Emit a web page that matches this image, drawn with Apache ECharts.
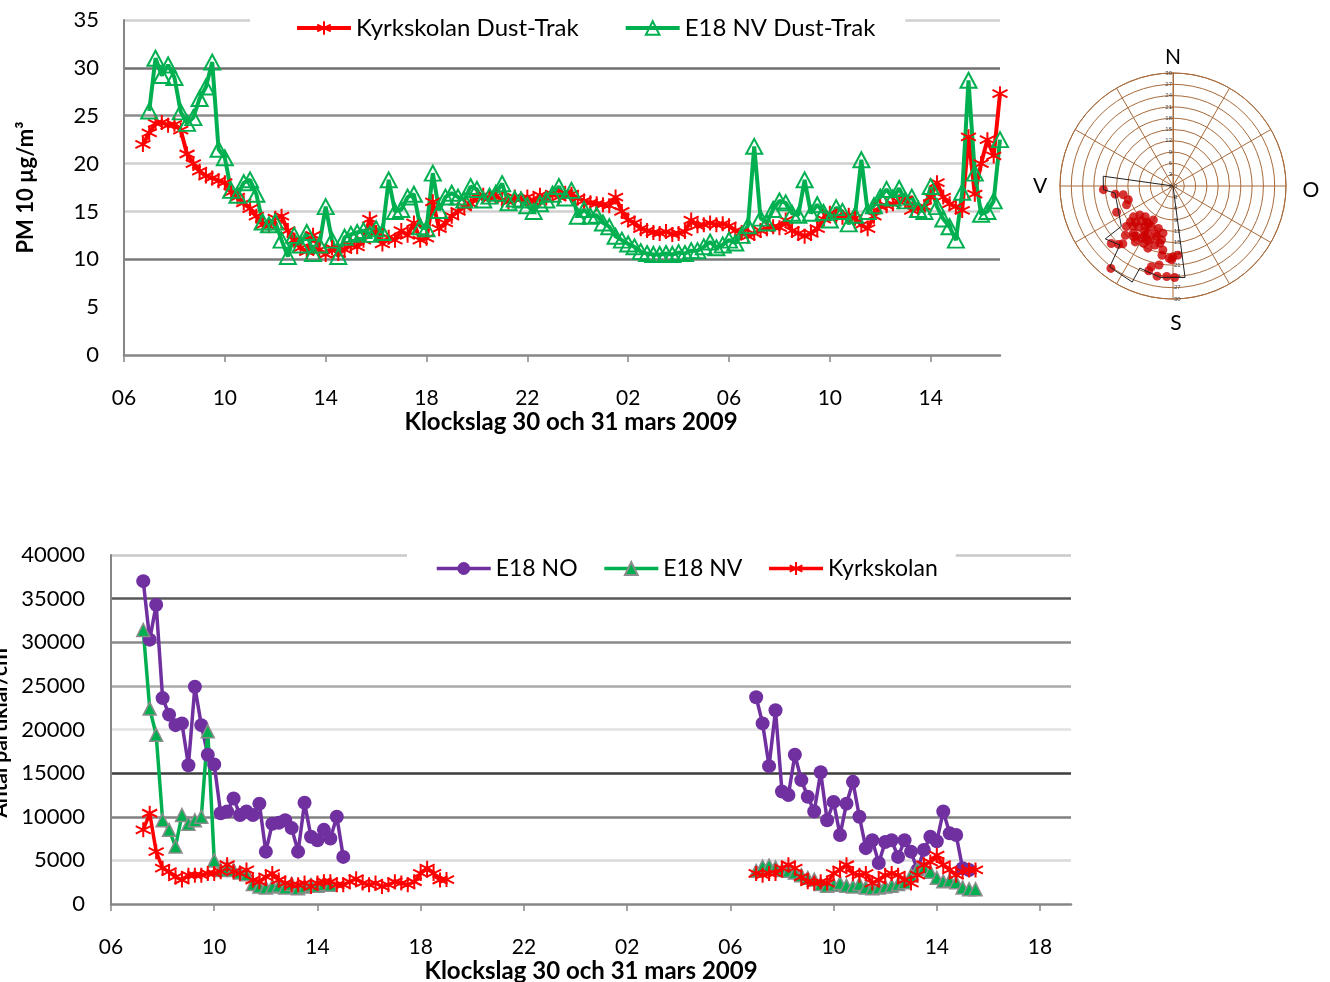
<!DOCTYPE html>
<html>
<head>
<meta charset="utf-8">
<script src="https://cdn.jsdelivr.net/npm/echarts@6/dist/echarts.min.js"></script>
<style>
  html, body { margin: 0; padding: 0; background: #fff; }
  #chart { width: 1330px; height: 982px; }
</style>
</head>
<body>
<div id="chart"></div>
<script>
// ---- Time base: hours after 06:00 on 30 March, 15-minute readings ----
const STEP = 0.25;
const hourTicks = ['06', '10', '14', '18', '22', '02', '06', '10', '14', '18'];

// ---- PM10 (µg/m³), Dust-Trak, first reading 06:45 ----
const pmStart = 0.75;
const kyrkskolanPM = [
  22.0,
  23.2, 24.2, 24.3, 24.0,  24.1, 23.5, 21.0, 20.0,  19.2, 18.7, 18.5, 18.2,
  18.0, 17.0, 16.5, 15.9,  15.3, 14.5, 13.6, 13.5,  14.3, 14.5, 13.0, 12.0,
  11.2, 10.8, 12.5, 11.0,  10.5, 11.2, 10.6, 11.0,  11.5, 11.3, 12.0, 14.2,
  12.8, 11.6, 12.3, 12.0,  13.0, 12.5, 13.8, 12.0,  12.2, 16.0, 13.2, 13.8,
  14.5, 15.0, 15.5, 15.8,  16.5, 16.7, 16.4, 16.6,  16.2, 16.0, 16.5, 16.3,
  16.5, 16.0, 16.7, 16.4,  16.8, 16.5, 16.9, 16.8,  16.4, 16.1, 15.9, 15.8,
  15.7, 15.6, 16.5, 15.0,  14.1, 13.8, 13.2, 13.0,  12.8, 12.7, 12.9, 12.6,
  12.7, 12.9, 14.1, 13.5,  13.6, 13.8, 13.6, 13.7,  13.5, 13.0, 12.8, 12.4,
  12.7, 13.0, 13.2, 13.4,  13.3, 14.1, 13.0, 12.7,  12.4, 12.7, 13.2, 14.2,
  14.8, 14.5, 14.4, 14.6,  14.3, 13.6, 13.2, 14.5,  15.5, 15.6, 15.8, 16.0,
  16.2, 15.1, 15.4, 15.5,  16.5, 18.0, 16.5, 15.8,  15.5, 15.1, 22.8, 16.8,
  20.0, 22.5, 20.8, 27.3
];
const e18nvPM = [
  null,
  25.5, 31.0, 29.2, 30.3,  29.0, 25.4, 24.2, 24.8,  26.8, 28.0, 30.6, 21.5,
  20.6, 17.2, 16.7, 18.0,  18.3, 16.8, 13.9, 13.6,  13.9, 12.0, 10.3, 12.5,
  11.5, 12.8, 10.6, 11.5,  15.5, 12.0, 10.3, 12.3,  12.6, 12.8, 13.0, 12.6,
  13.2, 12.8, 18.3, 15.0,  15.2, 16.5, 16.8, 13.4,  13.2, 19.0, 15.1, 16.5,
  16.9, 16.5, 16.2, 17.6,  17.3, 16.2, 16.6, 16.9,  17.9, 15.9, 16.3, 16.2,
  15.6, 15.0, 15.8, 16.2,  16.8, 17.6, 16.4, 17.2,  14.5, 15.2, 14.5, 14.6,
  13.8, 13.4, 12.4, 12.0,  11.6, 11.3, 10.8, 10.6,  10.5, 10.5, 10.6, 10.5,
  10.7, 10.6, 10.9, 10.9,  11.3, 11.8, 11.2, 11.5,  12.0, 11.7, 12.5, 13.5,
  21.8, 14.3, 13.8, 15.2,  16.1, 15.9, 14.8, 14.6,  18.3, 14.8, 15.7, 14.9,
  14.1, 15.4, 15.0, 13.7,  14.6, 20.4, 15.0, 15.6,  16.5, 17.3, 16.4, 17.4,
  16.1, 16.5, 15.2, 15.0,  17.6, 15.5, 14.2, 13.4,  12.0, 17.0, 28.7, 19.0,
  14.7, 15.0, 16.1, 22.5
];

// ---- Particle counts (per cm³), two measuring periods ----
const day1Start = 1.25;   // 07:15 on 30 March
const day2Start = 25.0;   // 07:00 on 31 March
const e18noDay1 = [37000, 30300, 34300, 23600, 21700, 20500, 20700, 15900, 24900, 20500, 17100, 16000,
  10400, 10600, 12100, 10200, 10600, 10200, 11500, 6000, 9200, 9300, 9600, 8700, 6000, 11600, 7700,
  7300, 8500, 7500, 10000, 5400];
const e18noDay2 = [23700, 20700, 15800, 22200, 12900, 12500, 17100, 14200, 12300, 10600, 15100, 9600,
  11700, 7900, 11500, 14000, 10000, 6400, 7300, 4700, 7100, 7300, 5400, 7300, 6000, 3900, 6200, 7700,
  7200, 10600, 8100, 7900, 4100, 3900];
const e18nvDay1 = [31400, 22400, 19400, 9600, 8500, 6600, 10200, 9200, 9600, 10000, 19800, 5000,
  3900, 4200, 3900, 3600, 3400, 2300, 2000, 1900, 2000, 2100, 1900, 2300, 1800, 2000, 2200, 2100, 2300, 2200];
const e18nvDay2 = [3800, 4300, 4400, 4200, 3900, 3800, 3600, 3300, 3000, 2800, 2300, 2100, 2200, 2400,
  2100, 2000, 2300, 1900, 1800, 1900, 2000, 2100, 2300, 2500, 3300, 4000, 4200, 3700, 3000, 2600, 2700,
  2500, 1900, 1700, 1700];
const kyrkDay1 = [8500, 10400, 6000, 4100, 3700, 3100, 2750, 3300, 3300, 3300, 3500, 3500, 3700, 4500,
  3700, 3500, 3900, 2750, 2550, 3100, 3500, 2750, 2400, 2200, 2200, 2400, 2000, 2400, 2550, 2550, 2200,
  2200, 2550, 2900, 2400, 2200, 2400, 2000, 2200, 2550, 2400, 2200, 2550, 3500, 4100, 3500, 2750, 2800];
const kyrkDay2 = [3500, 3300, 3500, 3500, 4100, 4500, 4100, 3100, 2550, 2400, 2550, 2400, 3500, 3900,
  4500, 3500, 3300, 3500, 2400, 2750, 3300, 3500, 3300, 2750, 2400, 3300, 4500, 4800, 5600, 4500, 3900,
  3300, 3700, 3900, 3900];

// ---- Wind rose: PM10 at Kyrkskolan against wind direction [level, degrees] ----
const roseDots = [
  [18.5, 267], [15.5, 262], [13.4, 260], [12.4, 253], [13.3, 248], [16.5, 245],
  [14.2, 212], [13.3, 232], [16.4, 229], [18.2, 224], [17.9, 214], [17.8, 202], [15.6, 193],
  [12.8, 192], [10.4, 210], [11.7, 229], [12.2, 208], [14.2, 220], [16.4, 220], [16.2, 211],
  [14.1, 198], [15.6, 203], [11.8, 216], [11.9, 199], [14.8, 230], [16.5, 216], [17.1, 207],
  [16.4, 197], [14.6, 192], [14.2, 208], [13.0, 215], [15.0, 225], [12.5, 222], [15.2, 210],
  [13.5, 200], [17.0, 218], [11.0, 222], [16.0, 205], [13.8, 226], [12.0, 213],
  [22.4, 227], [21.2, 223], [20.3, 221], [27.4, 217],
  [17.2, 189], [18.6, 189], [19.2, 183], [18.4, 176], [22.2, 195], [23.4, 196], [21.3, 190],
  [24.3, 190], [24.1, 184], [24.3, 179], [19.6, 181], [18.8, 180]
];
const roseOutline = [
  [0, 0], [18.7, 278], [18.5, 267], [15.5, 263], [17.4, 232], [22.8, 232], [21.1, 222],
  [27.3, 218], [27.7, 203], [23.5, 202], [24.5, 188], [24.5, 172.5], [0, 0]
];

// ---- helpers ----
function series(start, values) {
  return values.map((v, i) => [start + i * STEP, v]);
}
function twoPeriods(first, second) {
  const a = series(day1Start, first);
  const gap = [[day1Start + first.length * STEP, null]];
  return a.concat(gap, series(day2Start, second));
}
const clock = v => hourTicks[Math.round(v / 4)] || '';

const FONT = 'Lato, "DejaVu Sans", sans-serif';
const RED = '#ff0000', GREEN = '#00b050', PURPLE = '#7030a0';
const BROWN = '#a86b3c';
const STAR = 'path://M5,0L5,10M0.7,2.5L9.3,7.5M0.7,7.5L9.3,2.5';

function xAxisCfg(gridIndex, max, nameGap, namePad) {
  return {
    gridIndex, type: 'value', min: 0, max, interval: 4,
    axisLine: { show: true, lineStyle: { color: '#868686', width: 2.5 } },
    axisTick: { show: true, length: 7, lineStyle: { color: '#868686', width: 1.5 } },
    axisLabel: { formatter: clock, margin: 33, fontSize: 21, color: '#000', fontFamily: FONT,
      showMaxLabel: false },
    splitLine: { show: false },
    name: 'Klockslag 30 och 31 mars 2009', nameLocation: 'middle', nameGap,
    nameTextStyle: { fontSize: 24, fontWeight: 'bold', color: '#000', fontFamily: FONT, padding: namePad }
  };
}

const chart = echarts.init(document.getElementById('chart'), null, { renderer: 'canvas' });
chart.setOption({
  backgroundColor: '#fff',
  animation: false,
  grid: [
    { left: 124, top: 20, width: 876, height: 335, outerBoundsMode: 'none', containLabel: false },
    { left: 111, top: 555, width: 960, height: 349, outerBoundsMode: 'none', containLabel: false }
  ],
  xAxis: [
    xAxisCfg(0, 34.75, 55, [0, 0, 0, 18]),
    xAxisCfg(1, 37.2, 52, [0, 0, 0, 0])
  ],
  yAxis: [
    {
      gridIndex: 0, type: 'value', min: 0, max: 35, interval: 5,
      axisLine: { show: true, lineStyle: { color: '#868686', width: 2 } },
      axisTick: { show: false },
      axisLabel: { margin: 25, fontSize: 22, color: '#000', fontFamily: FONT },
      splitLine: { show: true, lineStyle: { width: 2.5,
        color: ['rgba(0,0,0,0)', 'rgba(0,0,0,0)', '#7a7a7a', '#cfcfcf', '#cfcfcf', '#8c8c8c', '#707070', '#cfcfcf'] } },
      name: 'PM 10 µg/m³', nameLocation: 'middle', nameGap: 87,
      nameTextStyle: { fontSize: 22, fontWeight: 'bold', color: '#000', fontFamily: FONT }
    },
    {
      gridIndex: 1, type: 'value', min: 0, max: 40000, interval: 5000,
      axisLine: { show: true, lineStyle: { color: '#868686', width: 2 } },
      axisTick: { show: false },
      axisLabel: { margin: 26, fontSize: 22, color: '#000', fontFamily: FONT, formatter: v => String(v) },
      splitLine: { show: true, lineStyle: { width: 2.5,
        color: ['rgba(0,0,0,0)', '#dadada', '#808080', '#3c3c3c', '#e2e2e2', '#aaaaaa', '#8a8a8a', '#585858', '#c8c8c8'] } },
      name: 'Antal partiklar/cm³', nameLocation: 'middle', nameGap: 99,
      nameTextStyle: { fontSize: 21, fontWeight: 'bold', color: '#000', fontFamily: FONT }
    }
  ],
  polar: [
    { center: [1173, 186], radius: 113 },
    { center: [1173, 186], radius: 113 }
  ],
  angleAxis: [
    {
      polarIndex: 0, type: 'value', min: 0, max: 360, interval: 30, startAngle: 90, clockwise: true,
      axisLine: { show: true, lineStyle: { color: BROWN, width: 1 } },
      axisTick: { show: false }, axisLabel: { show: false },
      splitLine: { show: true, lineStyle: { color: BROWN, width: 1 } }
    },
    {
      polarIndex: 1, type: 'value', min: 0, max: 360, startAngle: 270, clockwise: true,
      axisLine: { show: false }, axisTick: { show: false }, axisLabel: { show: false }, splitLine: { show: false }
    }
  ],
  radiusAxis: [
    {
      polarIndex: 0, type: 'value', min: 0, max: 30, interval: 3,
      axisLine: { show: true, lineStyle: { color: BROWN, width: 1 } },
      axisTick: { show: true, length: 3, lineStyle: { color: BROWN } },
      axisLabel: { fontSize: 6, color: '#444', margin: 1 },
      splitLine: { show: true, lineStyle: { color: BROWN, width: 1 } }
    },
    {
      polarIndex: 1, type: 'value', min: 0, max: 30, interval: 3,
      axisLine: { show: false }, axisTick: { show: false },
      axisLabel: { fontSize: 6, color: '#444', margin: 1 },
      splitLine: { show: false }
    }
  ],
  legend: [
    {
      data: ['Kyrkskolan Dust-Trak', 'E18 NV Dust-Trak'],
      left: 250, top: 10, padding: [6, 30, 6, 45], backgroundColor: '#fff',
      itemWidth: 54, itemHeight: 17, itemGap: 45,
      lineStyle: { width: 4 },
      textStyle: { fontSize: 24, color: '#000', fontFamily: FONT }
    },
    {
      data: ['E18 NO', 'E18 NV', 'Kyrkskolan'],
      left: 407, top: 551, padding: [6, 18, 6, 28], backgroundColor: '#fff',
      itemWidth: 54, itemHeight: 16, itemGap: 25,
      lineStyle: { width: 3.5 },
      textStyle: { fontSize: 23, color: '#000', fontFamily: FONT }
    }
  ],
  graphic: [
    { type: 'text', x: 1173, y: 57, style: { text: 'N', font: '21px ' + FONT, fill: '#000', textAlign: 'center', textVerticalAlign: 'middle' } },
    { type: 'text', x: 1176, y: 323, style: { text: 'S', font: '21px ' + FONT, fill: '#000', textAlign: 'center', textVerticalAlign: 'middle' } },
    { type: 'text', x: 1040, y: 186, style: { text: 'V', font: '21px ' + FONT, fill: '#000', textAlign: 'center', textVerticalAlign: 'middle' } },
    { type: 'text', x: 1311, y: 190, style: { text: 'O', font: '21px ' + FONT, fill: '#000', textAlign: 'center', textVerticalAlign: 'middle' } }
  ],
  series: [
    {
      name: 'Kyrkskolan Dust-Trak', type: 'line', xAxisIndex: 0, yAxisIndex: 0,
      data: series(pmStart, kyrkskolanPM),
      symbol: STAR, symbolSize: 15,
      lineStyle: { color: RED, width: 4 },
      itemStyle: { color: RED, borderColor: RED, borderWidth: 2 }
    },
    {
      name: 'E18 NV Dust-Trak', type: 'line', xAxisIndex: 0, yAxisIndex: 0,
      data: series(pmStart, e18nvPM),
      symbol: 'triangle', symbolSize: [16, 15],
      lineStyle: { color: GREEN, width: 4 },
      itemStyle: { color: 'rgba(255,255,255,0)', borderColor: GREEN, borderWidth: 2 }
    },
    {
      name: 'E18 NO', type: 'line', xAxisIndex: 1, yAxisIndex: 1,
      data: twoPeriods(e18noDay1, e18noDay2),
      symbol: 'circle', symbolSize: 14,
      lineStyle: { color: PURPLE, width: 3.5 },
      itemStyle: { color: PURPLE, borderColor: PURPLE, borderWidth: 0 }
    },
    {
      name: 'E18 NV', type: 'line', xAxisIndex: 1, yAxisIndex: 1,
      data: twoPeriods(e18nvDay1, e18nvDay2),
      symbol: 'triangle', symbolSize: 13,
      lineStyle: { color: GREEN, width: 3.5 },
      itemStyle: { color: GREEN, borderColor: '#8c8c8c', borderWidth: 1.5 }
    },
    {
      name: 'Kyrkskolan', type: 'line', xAxisIndex: 1, yAxisIndex: 1,
      data: twoPeriods(kyrkDay1, kyrkDay2),
      symbol: STAR, symbolSize: 15,
      lineStyle: { color: RED, width: 3.5 },
      itemStyle: { color: RED, borderColor: RED, borderWidth: 2 }
    },
    {
      name: 'Vindriktning', type: 'line', coordinateSystem: 'polar', polarIndex: 0,
      data: roseOutline, symbol: 'none',
      lineStyle: { color: '#222', width: 1 }
    },
    {
      name: 'PM10 Kyrkskolan', type: 'scatter', coordinateSystem: 'polar', polarIndex: 0,
      data: roseDots, symbol: 'circle', symbolSize: 9,
      itemStyle: { color: '#cc0000' }
    }
  ]
});
</script>
</body>
</html>
